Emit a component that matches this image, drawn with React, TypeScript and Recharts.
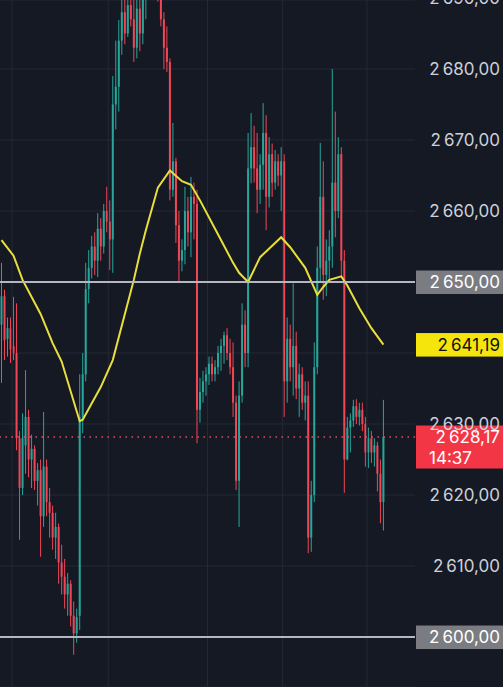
import React from "react"
import { ComposedChart, Bar, Line, XAxis, YAxis, CartesianGrid, ReferenceLine } from "recharts"

const CHART_W = 503
const CHART_H = 687
const AXIS_W = 88
const SLOTS = 138

const UP = "#26a69a"
const DOWN = "#f04656"
const BG = "#151924"
const FONT = "Inter, 'Noto Sans', sans-serif"

// o, h, l, c — one candle per slot
const candles: number[][] = [
	[2644.0, 2652.7, 2635.8, 2648.0],
	[2648.0, 2648.9, 2639.0, 2641.8],
	[2642.0, 2645.0, 2639.5, 2643.5],
	[2643.5, 2645.0, 2638.6, 2640.5],
	[2641.0, 2647.9, 2639.0, 2640.0],
	[2640.0, 2647.0, 2626.3, 2628.0],
	[2628.0, 2629.0, 2613.7, 2621.0],
	[2621.0, 2631.5, 2620.0, 2628.0],
	[2627.0, 2637.6, 2623.0, 2631.0],
	[2631.0, 2632.0, 2622.5, 2625.0],
	[2625.0, 2628.5, 2621.0, 2626.5],
	[2626.5, 2627.0, 2620.7, 2622.0],
	[2622.0, 2624.5, 2618.5, 2623.5],
	[2623.5, 2625.0, 2611.3, 2617.0],
	[2617.0, 2631.7, 2615.5, 2624.0],
	[2624.0, 2625.0, 2617.0, 2619.0],
	[2619.0, 2621.0, 2614.0, 2617.5],
	[2617.5, 2618.5, 2612.3, 2614.0],
	[2614.0, 2617.5, 2611.0, 2615.5],
	[2615.5, 2616.0, 2607.5, 2610.5],
	[2610.5, 2613.0, 2606.0, 2608.5],
	[2608.5, 2611.0, 2604.0, 2606.0],
	[2606.0, 2609.0, 2603.0, 2607.5],
	[2607.5, 2608.0, 2601.5, 2603.0],
	[2603.0, 2605.0, 2597.5, 2600.5],
	[2600.5, 2604.0, 2599.2, 2602.8],
	[2603.0, 2637.0, 2601.0, 2631.0],
	[2631.0, 2640.0, 2628.7, 2637.0],
	[2637.0, 2652.7, 2636.0, 2649.0],
	[2649.0, 2654.5, 2647.0, 2652.0],
	[2652.0, 2656.5, 2650.5, 2655.0],
	[2655.0, 2657.0, 2651.0, 2653.0],
	[2653.0, 2659.7, 2650.7, 2657.5],
	[2657.5, 2659.0, 2653.0, 2655.0],
	[2655.0, 2661.0, 2654.0, 2660.0],
	[2660.0, 2663.4, 2657.0, 2658.5],
	[2658.5, 2661.5, 2651.7, 2656.0],
	[2656.0, 2679.0, 2651.3, 2675.0],
	[2675.0, 2684.0, 2671.5, 2677.5],
	[2677.5, 2686.9, 2674.0, 2684.0],
	[2684.0, 2691.0, 2682.0, 2688.0],
	[2688.0, 2691.5, 2683.5, 2685.0],
	[2685.0, 2691.0, 2684.5, 2689.0],
	[2689.0, 2692.0, 2686.0, 2687.0],
	[2687.0, 2690.5, 2681.0, 2683.0],
	[2683.0, 2690.0, 2681.5, 2688.5],
	[2688.5, 2692.0, 2682.5, 2685.0],
	[2685.0, 2691.0, 2683.5, 2690.0],
	[2690.0, 2693.0, 2687.0, 2691.0],
	[2691.0, 2696.0, 2690.2, 2694.0],
	[2694.0, 2697.0, 2690.5, 2692.0],
	[2692.0, 2695.0, 2690.3, 2693.0],
	[2693.0, 2694.5, 2689.5, 2690.5],
	[2690.5, 2691.5, 2686.0, 2687.0],
	[2687.0, 2688.0, 2680.0, 2683.0],
	[2683.0, 2686.0, 2679.6, 2681.0],
	[2681.0, 2681.5, 2661.5, 2663.0],
	[2663.0, 2672.4, 2662.0, 2667.0],
	[2667.0, 2667.5, 2655.5, 2658.0],
	[2658.0, 2660.0, 2649.9, 2653.0],
	[2653.0, 2656.0, 2651.5, 2654.5],
	[2654.5, 2663.4, 2652.5, 2660.0],
	[2660.0, 2662.0, 2655.0, 2657.0],
	[2657.0, 2664.8, 2653.5, 2662.0],
	[2662.0, 2664.0, 2656.0, 2661.0],
	[2661.0, 2663.0, 2627.3, 2632.0],
	[2632.0, 2636.5, 2630.2, 2634.5],
	[2634.5, 2637.5, 2633.0, 2636.0],
	[2636.0, 2638.0, 2634.0, 2637.0],
	[2637.0, 2639.5, 2635.5, 2638.5],
	[2638.5, 2639.5, 2636.0, 2637.0],
	[2637.0, 2639.0, 2636.0, 2638.0],
	[2638.0, 2641.0, 2637.0, 2640.0],
	[2640.0, 2642.0, 2637.5, 2641.0],
	[2641.0, 2643.0, 2638.5, 2642.5],
	[2642.5, 2643.5, 2639.0, 2640.0],
	[2640.0, 2642.0, 2637.0, 2638.0],
	[2638.0, 2641.5, 2631.0, 2633.0],
	[2633.0, 2634.0, 2620.7, 2622.0],
	[2622.0, 2636.0, 2615.5, 2634.0],
	[2634.0, 2647.0, 2633.0, 2644.0],
	[2644.0, 2646.0, 2638.0, 2640.0],
	[2640.0, 2671.0, 2638.0, 2666.0],
	[2666.0, 2673.8, 2663.9, 2669.0],
	[2669.0, 2672.0, 2664.0, 2666.0],
	[2666.0, 2671.0, 2659.7, 2663.0],
	[2663.0, 2668.0, 2661.0, 2666.5],
	[2666.5, 2675.2, 2663.0, 2671.0],
	[2671.0, 2673.5, 2657.3, 2662.0],
	[2662.0, 2670.4, 2660.5, 2668.0],
	[2668.0, 2669.5, 2662.0, 2664.0],
	[2664.0, 2668.6, 2663.0, 2667.0],
	[2667.0, 2668.0, 2663.5, 2665.0],
	[2665.0, 2669.0, 2660.0, 2667.0],
	[2667.0, 2668.0, 2631.0, 2636.0],
	[2636.0, 2645.0, 2633.0, 2642.0],
	[2642.0, 2644.0, 2636.0, 2638.0],
	[2638.0, 2649.8, 2634.0, 2641.0],
	[2641.0, 2643.0, 2633.5, 2635.0],
	[2635.0, 2638.5, 2631.0, 2637.0],
	[2637.0, 2638.0, 2632.0, 2633.0],
	[2633.0, 2636.0, 2630.5, 2634.0],
	[2634.0, 2636.0, 2611.8, 2614.0],
	[2614.0, 2622.0, 2612.0, 2620.0],
	[2620.0, 2641.5, 2619.0, 2638.0],
	[2638.0, 2655.0, 2637.0, 2652.0],
	[2652.0, 2669.6, 2650.0, 2662.0],
	[2662.0, 2667.0, 2647.5, 2651.0],
	[2651.0, 2656.0, 2648.0, 2653.0],
	[2653.0, 2657.3, 2649.9, 2655.0],
	[2655.0, 2680.0, 2652.0, 2664.0],
	[2664.0, 2674.0, 2656.3, 2660.0],
	[2660.0, 2670.4, 2659.0, 2668.0],
	[2668.0, 2669.0, 2650.7, 2653.0],
	[2653.0, 2654.5, 2620.3, 2625.0],
	[2625.0, 2631.0, 2624.9, 2629.5],
	[2629.5, 2631.5, 2626.0, 2630.5],
	[2630.5, 2633.4, 2629.6, 2632.5],
	[2632.5, 2633.5, 2630.0, 2631.0],
	[2631.0, 2633.0, 2629.8, 2632.0],
	[2632.0, 2633.0, 2629.0, 2630.0],
	[2630.0, 2631.0, 2624.0, 2626.0],
	[2626.0, 2629.5, 2623.8, 2628.0],
	[2628.0, 2629.0, 2624.5, 2626.0],
	[2626.0, 2628.0, 2624.0, 2627.0],
	[2627.0, 2627.5, 2620.5, 2623.0],
	[2623.0, 2625.0, 2616.0, 2619.0],
	[2619.0, 2633.4, 2615.0, 2628.17],
]

// moving average, read at these candle slots
const maReadings: number[][] = [
	[0, 2655.9], [4, 2653.7], [7, 2650.3], [13, 2645.5], [17, 2641.4], [20, 2638.8],
	[26, 2630.4], [27, 2630.6], [33, 2635.2], [37, 2639.0], [44, 2650.3], [46, 2654.0],
	[48, 2657.3], [52, 2663.3], [56, 2665.7], [60, 2664.2], [63, 2663.7], [66, 2661.5],
	[71, 2657.5], [77, 2652.7], [79, 2651.3], [82, 2650.0], [86, 2653.5], [93, 2656.3],
	[96, 2654.9], [101, 2652.0], [105, 2648.2], [107, 2649.3], [109, 2650.3], [113, 2650.8],
	[115, 2649.5], [119, 2646.3], [123, 2643.5], [127, 2641.19],
]

const priceTicks = [2600, 2610, 2620, 2630, 2640, 2650, 2660, 2670, 2680, 2690]
// tick texts that sit fully under a price tag
const hiddenTickTexts = [2600, 2640, 2650]
const priceDomain = [2592.96, 2689.72]
const timeGridSlots = [4, 36, 69, 94, 122]
const levelLines = [2650, 2600]
const maLast = 2641.19
const lastPrice = 2628.17
const countdown = "14:37"

const maMap = new Map(maReadings.map(([i, v]) => [i, v]))

const data = Array.from({ length: SLOTS }, (_, i) => {
	const k = candles[i]
	return {
		i,
		range: k ? [k[2], k[1]] : null,
		o: k ? k[0] : null,
		h: k ? k[1] : null,
		l: k ? k[2] : null,
		c: k ? k[3] : null,
		ma: maMap.has(i) ? maMap.get(i) : null,
	}
})

const fmtPrice = (v: number) => {
	const s = v.toFixed(2).replace(".", ",")
	return s.slice(0, 1) + "\u2009" + s.slice(1)
}

const Candle = (props: any) => {
	const { x, y, width, height, payload } = props
	if (!payload || payload.o == null) return null
	const { o, h, l, c } = payload
	const top = Math.min(y, y + height)
	const span = Math.abs(height)
	const k = h - l > 0 ? span / (h - l) : 0
	const yOf = (v: number) => top + (h - v) * k
	const color = c >= o ? UP : DOWN
	const cx = x + width / 2
	const b1 = yOf(Math.max(o, c))
	const b2 = yOf(Math.min(o, c))
	return (
		<g>
			<line x1={cx} x2={cx} y1={top} y2={top + span} stroke={color} strokeWidth={1} />
			<rect x={cx - 1} y={b1} width={2} height={Math.max(1, b2 - b1)} fill={color} />
		</g>
	)
}

const PriceTick = ({ y, payload }: any) => {
	if (hiddenTickTexts.includes(payload.value)) return <g />
	return (
		<text x={CHART_W - 3} y={y} textAnchor="end" dominantBaseline="central" fill="#cdd0d8" fontSize={17} fontFamily={FONT}>
			{fmtPrice(payload.value)}
		</text>
	)
}

const PriceTag = (props: any) => {
	const { viewBox, text, bg, color, sub } = props
	if (!viewBox) return null
	const left = viewBox.x + viewBox.width + 1
	const top = viewBox.y - 11.5
	return (
		<g>
			<rect x={left} y={top} width={CHART_W - left} height={sub ? 43 : 23.5} fill={bg} />
			<text x={CHART_W - 3} y={viewBox.y} textAnchor="end" dominantBaseline="central" fill={color} fontSize={17} fontFamily={FONT}>
				{text}
			</text>
			{sub && (
				<text x={left + 13} y={viewBox.y + 21} dominantBaseline="central" fill={color} fontSize={17} fontFamily={FONT}>
					{sub}
				</text>
			)}
		</g>
	)
}

export default function App() {
	return (
		<div style={{ width: CHART_W, height: CHART_H, background: BG }}>
			<style>{`body{margin:0;background:${BG}}`}</style>
			<ComposedChart width={CHART_W} height={CHART_H} data={data} margin={{ top: 0, right: 0, left: 0, bottom: 0 }} barCategoryGap={0}>
				<CartesianGrid vertical={false} stroke="#252936" strokeWidth={1} />
				<XAxis dataKey="i" hide />
				<YAxis
					orientation="right"
					width={AXIS_W}
					domain={priceDomain}
					ticks={priceTicks}
					allowDataOverflow
					axisLine={false}
					tickLine={false}
					tick={<PriceTick />}
					interval={0}
				/>
				{timeGridSlots.map((s) => (
					<ReferenceLine key={s} x={s} position="start" stroke="#252936" strokeWidth={1} />
				))}
				<Bar dataKey="range" shape={<Candle />} isAnimationActive={false} />
				<Line
					type="linear"
					dataKey="ma"
					stroke="#e9df3c"
					strokeWidth={2}
					dot={false}
					activeDot={false}
					connectNulls
					isAnimationActive={false}
				/>
				{levelLines.map((v) => (
					<ReferenceLine
						key={v}
						y={v}
						stroke="#b4b7bf"
						strokeWidth={2}
						label={<PriceTag text={fmtPrice(v)} bg="#7a7c82" color="#ffffff" />}
					/>
				))}
				<ReferenceLine y={maLast} stroke="none" label={<PriceTag text={fmtPrice(maLast)} bg="#f5e50d" color="#111111" />} />
				<ReferenceLine
					y={lastPrice}
					stroke="#e0505d"
					strokeWidth={1.5}
					strokeDasharray="1.5 4.5"
					label={<PriceTag text={fmtPrice(lastPrice)} sub={countdown} bg="#f23645" color="#ffffff" />}
				/>
			</ComposedChart>
		</div>
	)
}
